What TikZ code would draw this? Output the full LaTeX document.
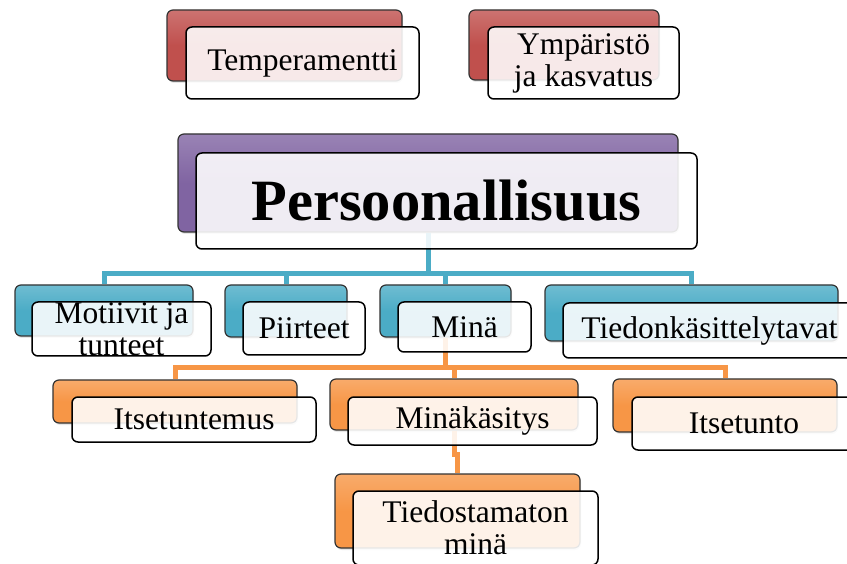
\documentclass[tikz,border=0pt]{standalone}
\usepackage{fontspec}
\setmainfont{Liberation Serif}
\usetikzlibrary{shadows}
\definecolor{cred}{HTML}{C0504D}
\definecolor{cpurp}{HTML}{8064A2}
\definecolor{cblue}{HTML}{4BACC6}
\definecolor{corange}{HTML}{F79646}
\tikzset{
	back/.style={draw=black!80, line width=1.2pt, rounded corners=6pt, top color=#1!80!white, bottom color=#1, middle color=#1, drop shadow={opacity=0.2, shadow xshift=1pt, shadow yshift=-2pt}},
	front/.style={draw=black, line width=1.5pt, rounded corners=6pt, fill=white, fill opacity=0.88, inner sep=0pt},
	lbl/.style={align=center, text opacity=1, inner sep=0pt, font=\fontsize{31.5}{32}\selectfont},
	bline/.style={draw=cblue, line width=5pt},
	oline/.style={draw=corange, line width=5pt}
}
\begin{document}
\begin{tikzpicture}[x=1pt, y=-1pt]
		\clip (0,0) rectangle (847,564);
		\node[back=cred, minimum width=235pt, minimum height=71pt] (temp-b) at (284.5,45.5) {};
		\node[back=cred, minimum width=190pt, minimum height=70pt] (ymp-b) at (564,45) {};
		\node[back=cpurp, minimum width=500pt, minimum height=98pt] (pers-b) at (428,183) {};
		\node[back=cblue, minimum width=178pt, minimum height=51pt] (mot-b) at (104,310.5) {};
		\node[back=cblue, minimum width=122pt, minimum height=52pt] (piir-b) at (286,311) {};
		\node[back=cblue, minimum width=131pt, minimum height=52pt] (mina-b) at (445.5,311) {};
		\node[back=cblue, minimum width=293pt, minimum height=56pt] (tied-b) at (691.5,313) {};
		\node[back=corange, minimum width=244pt, minimum height=43pt] (itu-b) at (175,401.5) {};
		\node[back=corange, minimum width=248pt, minimum height=51pt] (mk-b) at (454,404.5) {};
		\node[back=corange, minimum width=224pt, minimum height=53pt] (itun-b) at (725,405.5) {};
		\node[back=corange, minimum width=245pt, minimum height=74pt] (tm-b) at (457.5,511) {};

		\foreach \c in {mot-b,piir-b,mina-b,tied-b}
			\draw[bline] (pers-b.south) -- ++(0,41) -| (\c.north);
		\foreach \c in {itu-b,mk-b,itun-b}
			\draw[oline] (mina-b.south) -- ++(0,30) -| (\c.north);
		\draw[oline] (mk-b.south) -- ++(0,24) -| (tm-b.north);

		\node[front, minimum width=233pt, minimum height=72pt, label={[lbl]center:Temperamentti}] (temp) at (302.5,63) {};
		\node[front, minimum width=191pt, minimum height=72pt, label={[lbl]center:Ympäristö\\ja kasvatus}] (ymp) at (583.5,63) {};
		\node[front, minimum width=501pt, minimum height=96pt, label={[lbl, font=\fontsize{58.5}{60}\selectfont\bfseries]center:Persoonallisuus}] (pers) at (446.5,201) {};
		\node[front, minimum width=179pt, minimum height=54pt, label={[lbl]center:Motiivit ja\\tunteet}] (mot) at (121.5,329) {};
		\node[front, minimum width=122pt, minimum height=53pt, label={[lbl]center:Piirteet}] (piir) at (304,328.5) {};
		\node[front, minimum width=133pt, minimum height=50pt, label={[lbl]center:Minä}] (mina) at (464.5,327) {};
		\node[front, minimum width=293pt, minimum height=55pt, label={[lbl]center:Tiedonkäsittelytavat}] (tied) at (709.5,330.5) {};
		\node[front, minimum width=244pt, minimum height=45pt, label={[lbl]center:Itsetuntemus}] (itu) at (194,419.5) {};
		\node[front, minimum width=249pt, minimum height=48pt, label={[lbl]center:Minäkäsitys}] (mk) at (472.5,421) {};
		\node[front, minimum width=224pt, minimum height=53pt, label={[lbl]center:Itsetunto}] (itun) at (744,423.5) {};
		\node[front, minimum width=245pt, minimum height=74pt, label={[lbl]center:Tiedostamaton\\minä}] (tm) at (475.5,528) {};
\end{tikzpicture}
\end{document}
